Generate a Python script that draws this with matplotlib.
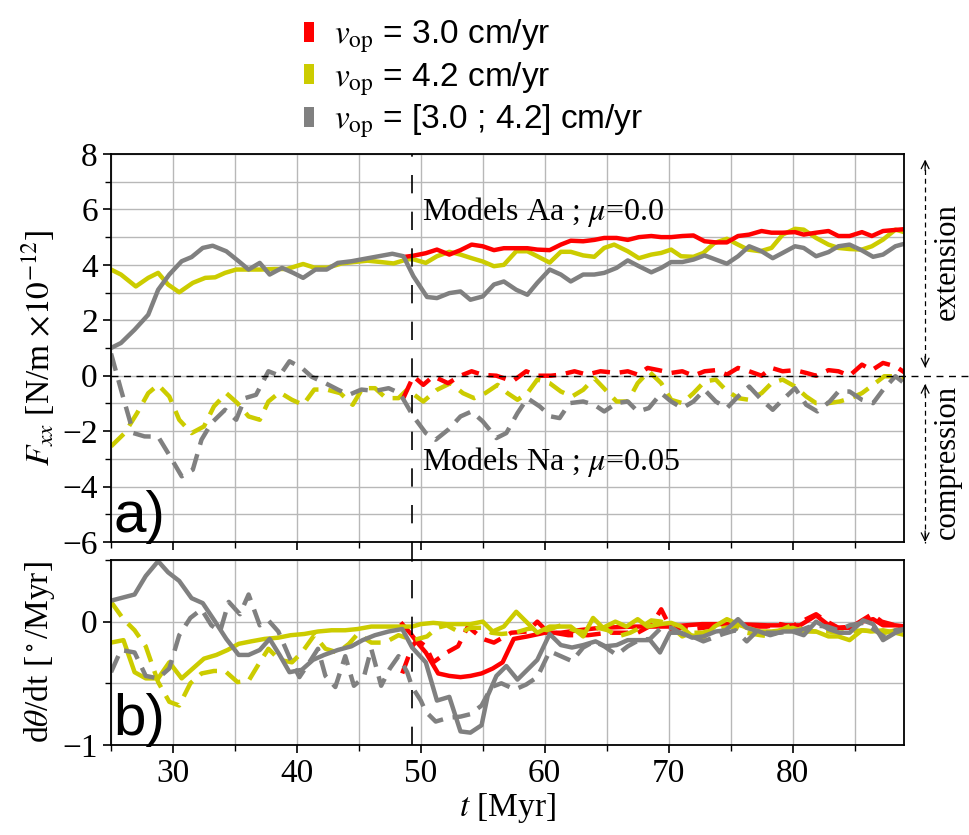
import matplotlib
matplotlib.use('Agg')
import matplotlib.pyplot as plt
from matplotlib.patches import Patch
from matplotlib.ticker import MultipleLocator

plt.rcParams['font.family'] = ['Liberation Serif', 'DejaVu Serif']
plt.rcParams['mathtext.fontset'] = 'stix'

# ---- panel a) : F_xx [N/m x 1e-12] ----
# v_op = [3.0 ; 4.2] (gray), solid = Models Aa
t_gray_a = [25.0, 25.8, 26.9, 28.0, 28.8, 29.7, 30.7, 31.5, 32.4, 33.2, 34.3, 35.3, 36.1, 37.0, 37.8,
            38.8, 39.7, 40.5, 41.5, 42.4, 43.3, 44.4, 45.5, 46.6, 47.7, 48.6, 49.4, 50.5, 51.3, 52.3,
            53.2, 54.0, 55.0, 55.9, 56.7, 57.7, 58.6, 59.4, 60.4, 61.3, 62.1, 63.1, 64.0, 64.8, 65.8,
            66.7, 67.6, 68.6, 69.4, 70.2, 71.1, 72.0, 72.9, 73.8, 74.7, 75.6, 76.5, 77.5, 78.4, 79.2,
            80.2, 80.9, 81.9, 82.9, 83.7, 84.6, 85.6, 86.5, 87.3, 88.3, 89.1]
f_gray_a = [1.0, 1.18, 1.66, 2.2, 3.1, 3.65, 4.13, 4.28, 4.61, 4.69, 4.49, 4.13, 3.83, 4.07, 3.65,
            3.89, 3.71, 3.53, 3.83, 3.83, 4.07, 4.13, 4.22, 4.31, 4.40, 4.31, 3.59, 2.84, 2.8, 2.98,
            3.04, 2.74, 2.86, 3.29, 3.4, 3.1, 2.92, 3.35, 3.83, 3.65, 3.4, 3.65, 3.65, 3.71, 3.89,
            4.16, 3.95, 3.73, 3.89, 4.1, 4.1, 4.19, 4.34, 4.19, 4.04, 4.31, 4.67, 4.49, 4.24, 4.43,
            4.67, 4.61, 4.31, 4.46, 4.67, 4.73, 4.52, 4.29, 4.37, 4.67, 4.77]

# v_op = 4.2 (yellow), solid
t_yel_a = [25.0, 25.8, 27.0, 28.0, 28.8, 29.6, 30.5, 31.6, 32.6, 33.4, 34.2, 35.1, 36.0, 37.1, 38.2,
           39.2, 40.5, 41.4, 42.5, 43.6, 44.6, 45.7, 46.8, 47.8, 48.9, 49.4, 50.4, 51.3, 52.3, 53.2,
           54.1, 55.0, 55.9, 56.7, 57.7, 58.6, 59.4, 60.4, 61.3, 62.1, 63.1, 64.0, 64.8, 65.6, 66.7,
           67.6, 68.6, 69.4, 70.2, 71.0, 72.0, 72.8, 73.7, 74.7, 75.6, 76.4, 77.4, 78.3, 79.2, 80.2,
           80.9, 81.9, 82.9, 83.7, 84.6, 85.6, 86.4, 87.3, 88.3, 89.1]
f_yel_a = [3.83, 3.65, 3.22, 3.53, 3.71, 3.29, 3.01, 3.35, 3.53, 3.55, 3.71, 3.83, 3.83, 3.83, 3.85,
           3.85, 4.03, 3.9, 3.9, 4.05, 4.1, 4.15, 4.1, 4.05, 4.2, 4.2, 4.07, 4.31, 4.47, 4.37,
           4.24, 4.12, 3.95, 4.0, 4.49, 4.49, 4.31, 4.08, 4.47, 4.47, 4.34, 4.29, 4.61, 4.73, 4.49,
           4.24, 4.37, 4.43, 4.55, 4.31, 4.29, 4.43, 4.79, 4.94, 4.73, 4.55, 4.49, 4.61, 5.09, 5.3,
           5.27, 4.97, 4.73, 4.61, 4.57, 4.55, 4.67, 4.91, 5.27, 5.17]

# v_op = 3.0 (red), solid
t_red_a = [48.9, 49.4, 50.4, 51.3, 52.3, 53.2, 54.1, 55.0, 55.9, 56.7, 57.7, 58.6, 59.4, 60.4, 61.3,
           62.1, 63.1, 64.0, 64.8, 65.8, 66.7, 67.6, 68.6, 69.4, 70.2, 71.1, 72.0, 72.9, 73.8, 74.7,
           75.6, 76.5, 77.5, 78.3, 79.2, 80.2, 80.9, 81.9, 82.9, 83.7, 84.6, 85.6, 86.4, 87.3, 88.3,
           89.1]
f_red_a = [4.3, 4.33, 4.42, 4.55, 4.37, 4.53, 4.73, 4.67, 4.53, 4.6, 4.6, 4.6, 4.55, 4.53, 4.73,
           4.87, 4.85, 4.9, 4.97, 4.97, 4.9, 5.0, 5.04, 5.0, 5.0, 5.04, 5.06, 4.85, 4.81, 4.81,
           5.04, 5.09, 5.22, 5.16, 5.16, 5.18, 5.09, 5.16, 5.22, 5.04, 5.04, 5.18, 5.04, 5.22, 5.26,
           5.29]

# dashed = Models Na
t_gray_n = [25.0, 25.8, 26.8, 27.7, 28.8, 29.6, 30.7, 31.6, 32.3, 33.1, 34.2, 35.1, 35.8, 36.7, 37.7,
            38.6, 39.4, 40.4, 41.2, 42.3, 43.3, 44.2, 45.2, 46.3, 47.4, 48.3, 49.4, 50.4, 51.2, 52.2,
            53.2, 54.1, 55.0, 56.1, 56.9, 57.8, 58.6, 59.6, 60.5, 61.2, 62.0, 63.1, 64.0, 64.8, 65.8,
            66.7, 67.5, 68.4, 69.4, 70.2, 71.1, 72.0, 72.9, 73.8, 74.7, 75.6, 76.5, 77.5, 78.4, 79.2,
            80.2, 81.1, 82.0, 83.0, 83.7, 84.6, 85.6, 86.5, 87.3, 88.3, 89.1]
f_gray_n = [0.8, -0.5, -2.07, -2.19, -2.2, -2.79, -3.63, -3.39, -2.31, -1.71, -1.23, -1.59, -0.81, -0.69, 0.16,
            0.0, 0.52, 0.28, -0.04, -0.27, -0.5, -0.69, -0.5, -0.55, -0.45, -0.63, -1.47, -2.07, -2.31, -1.95,
            -1.47, -1.29, -1.65, -2.25, -2.07, -1.35, -0.81, -1.11, -1.47, -1.53, -0.99, -0.93, -1.05, -1.29, -0.99,
            -0.93, -1.29, -1.17, -0.63, -0.93, -1.17, -0.93, -0.51, -0.93, -1.17, -0.75, -0.39, -0.87, -1.23, -0.87,
            -0.45, -1.05, -1.29, -0.93, -0.57, -0.57, -0.87, -0.99, -0.51, -0.02, -0.3]

t_yel_n = [25.0, 26.1, 27.1, 28.0, 28.8, 29.7, 30.5, 31.5, 32.5, 33.3, 34.3, 35.2, 36.1, 37.0, 37.7,
           38.6, 39.6, 40.5, 41.4, 42.4, 43.5, 44.5, 45.3, 46.3, 47.2, 48.2, 48.9, 50.2, 51.3, 52.4,
           53.4, 54.3, 55.2, 56.2, 57.0, 57.8, 58.6, 59.4, 60.4, 61.3, 62.2, 63.1, 64.0, 64.9, 65.8,
           66.7, 67.5, 68.4, 69.4, 70.2, 71.1, 72.0, 72.9, 73.8, 74.6, 75.6, 76.5, 77.5, 78.3, 79.2,
           80.2, 81.1, 81.9, 82.9, 83.8, 84.7, 85.6, 86.5, 87.4, 88.3, 89.1]
f_yel_n = [-2.55, -2.07, -1.35, -0.63, -0.33, -0.75, -1.59, -2.07, -1.83, -1.11, -0.63, -0.99, -1.47, -1.59, -0.93,
           -0.6, -0.87, -1.05, -0.5, -0.5, -0.63, -1.05, -0.45, -0.45, -0.81, -0.81, -0.5, -0.93, -0.51, -0.27,
           -0.63, -0.81, -0.63, -0.33, -0.63, -0.87, -0.63, -0.14, -0.27, -0.57, -0.75, -0.51, -0.09, -0.51, -0.93,
           -0.93, -0.27, 0.16, -0.27, -0.87, -0.99, -0.63, -0.21, -0.14, -0.51, -0.81, -0.87, -0.63, -0.27, -0.14,
           -0.39, -0.75, -0.99, -0.99, -0.93, -0.81, -0.63, -0.33, -0.02, -0.02, -0.14]

t_red_n = [48.6, 49.4, 50.2, 51.0, 52.2, 53.2, 54.1, 55.0, 56.1, 57.4, 58.5, 59.4, 60.5, 61.3, 62.4,
           63.4, 64.5, 65.8, 66.7, 67.5, 68.3, 69.2, 70.2, 71.1, 72.0, 72.9, 73.8, 74.7, 75.6, 76.5,
           77.5, 78.3, 79.2, 80.2, 81.1, 81.9, 82.9, 83.7, 84.6, 85.6, 86.4, 87.3, 88.3, 89.1]
f_red_n = [-0.8, -0.02, -0.33, -0.02, -0.27, 0.0, 0.16, 0.03, 0.0, -0.2, 0.16, 0.0, 0.0, 0.04, 0.16,
           0.04, 0.16, 0.1, 0.16, 0.04, 0.28, 0.2, 0.1, 0.16, 0.0, 0.16, 0.2, 0.04, 0.28, 0.16,
           0.0, 0.28, 0.16, 0.2, 0.1, 0.0, 0.2, 0.16, 0.0, 0.4, 0.2, 0.46, 0.34, 0.1]

# ---- panel b) : dtheta/dt [deg/Myr] ----
t_gray_b = [25.0, 26.9, 27.8, 28.8, 29.6, 30.5, 31.5, 32.4, 33.4, 34.3, 35.3, 36.1, 37.0, 37.8, 38.6,
            39.4, 40.4, 41.3, 42.2, 43.3, 44.4, 45.3, 46.3, 47.4, 48.5, 49.3, 50.4, 51.3, 52.3, 53.2,
            54.0, 54.9, 55.4, 56.1, 56.9, 57.8, 58.6, 59.4, 60.4, 61.3, 62.2, 63.1, 64.1, 64.9, 65.8,
            66.7, 67.6, 68.5, 69.3, 70.1, 71.0, 71.9, 72.8, 73.8, 74.6, 75.6, 76.3, 77.3, 78.2, 79.2,
            80.0, 80.9, 81.9, 82.9, 83.8, 84.6, 85.7, 86.5, 87.3, 88.3, 89.1]
d_gray_b = [0.17, 0.22, 0.37, 0.49, 0.40, 0.33, 0.19, 0.15, 0.0, -0.14, -0.27, -0.27, -0.23, -0.14, -0.27,
            -0.41, -0.39, -0.31, -0.27, -0.23, -0.2, -0.15, -0.11, -0.08, -0.06, -0.21, -0.33, -0.64, -0.61, -0.89,
            -0.9, -0.84, -0.6, -0.44, -0.36, -0.47, -0.39, -0.31, -0.1, -0.19, -0.21, -0.19, -0.16, -0.2, -0.19,
            -0.15, -0.15, -0.15, -0.25, -0.09, -0.09, -0.13, -0.12, -0.08, -0.07, 0.02, -0.05, -0.08, -0.11, -0.08,
            -0.08, -0.11, 0.0, -0.06, -0.09, -0.09, 0.01, -0.02, -0.15, -0.09, -0.06]

t_yel_b = [25.0, 26.0, 26.9, 27.8, 28.8, 29.7, 30.7, 31.6, 32.5, 33.5, 34.4, 35.3, 36.3, 37.4, 38.5,
           39.5, 40.6, 41.7, 42.8, 43.9, 44.9, 46.0, 47.1, 48.2, 49.3, 50.0, 51.0, 52.1, 53.0, 54.0,
           55.0, 55.8, 56.7, 57.7, 58.6, 59.4, 60.4, 61.3, 62.1, 63.1, 63.9, 64.7, 65.7, 66.6, 67.5,
           68.3, 69.3, 70.2, 71.0, 71.8, 72.8, 73.7, 74.7, 75.6, 76.3, 77.4, 78.3, 79.1, 80.0, 80.9,
           81.9, 82.9, 83.7, 84.6, 85.6, 86.4, 87.3, 88.3, 89.1]
d_yel_b = [-0.17, -0.15, -0.41, -0.46, -0.46, -0.33, -0.46, -0.38, -0.3, -0.27, -0.23, -0.18, -0.16, -0.14, -0.13,
           -0.11, -0.1, -0.08, -0.07, -0.07, -0.06, -0.04, -0.04, -0.04, -0.04, -0.02, -0.01, -0.02, -0.02, -0.02,
           0.0, -0.08, -0.04, 0.08, -0.01, -0.09, -0.04, -0.04, -0.04, -0.12, 0.03, -0.05, 0.0, -0.04, 0.02,
           -0.04, -0.02, -0.01, -0.04, -0.11, -0.13, -0.04, 0.02, -0.02, -0.05, -0.08, -0.08, -0.07, -0.05, -0.08,
           -0.08, -0.12, -0.12, -0.15, -0.07, -0.08, -0.07, -0.09, -0.11]

t_red_b = [48.5, 49.2, 49.8, 50.4, 51.4, 52.3, 53.2, 54.0, 54.9, 55.8, 56.6, 57.5, 58.6, 60.0, 61.3,
           62.7, 64.5, 67.3, 70.0, 72.7, 75.4, 78.0, 80.6, 81.9, 82.8, 83.7, 84.6, 85.6, 86.5, 87.3,
           88.3, 89.1]
d_red_b = [-0.02, -0.1, -0.18, -0.25, -0.42, -0.44, -0.45, -0.44, -0.42, -0.38, -0.33, -0.14, -0.12, -0.09, -0.09,
           -0.07, -0.05, -0.04, -0.04, -0.02, -0.02, -0.03, -0.03, 0.05, -0.02, -0.05, -0.05, 0.0, 0.02, -0.03,
           -0.03, -0.04]

t_gray_bn = [25.0, 25.8, 26.9, 27.8, 28.8, 29.7, 30.5, 31.4, 32.3, 33.1, 33.8, 34.5, 35.4, 36.1, 37.0,
             37.7, 38.5, 39.4, 40.2, 41.0, 41.7, 42.3, 43.1, 43.9, 44.6, 45.4, 46.0, 46.8, 47.5, 48.2,
             48.9, 49.3, 50.0, 50.4, 51.2, 52.2, 53.2, 54.0, 54.9, 55.7, 56.5, 57.6, 58.5, 59.4, 60.4,
             61.3, 62.2, 63.1, 64.0, 64.8, 65.8, 66.7, 67.6, 68.5, 69.4, 70.2, 71.1, 71.9, 72.8, 73.6,
             74.4, 75.4, 76.3, 77.1, 77.9, 79.0, 79.8, 80.6, 81.7, 82.8, 83.7, 84.6, 85.7, 86.5, 87.5,
             88.3, 89.1]
d_gray_bn = [-0.41, -0.23, -0.25, -0.44, -0.46, -0.38, -0.11, 0.03, 0.10, -0.03, -0.08, 0.16, 0.06, 0.22, -0.03,
             0.01, -0.08, -0.29, -0.45, -0.33, -0.22, -0.44, -0.53, -0.28, -0.52, -0.45, -0.22, -0.52, -0.38, -0.28,
             -0.41, -0.53, -0.64, -0.73, -0.81, -0.78, -0.77, -0.75, -0.68, -0.53, -0.5, -0.55, -0.51, -0.45, -0.24,
             -0.28, -0.32, -0.21, -0.16, -0.2, -0.27, -0.2, -0.15, -0.14, -0.05, -0.05, -0.1, -0.12, -0.16, -0.13,
             -0.1, -0.07, -0.16, -0.08, -0.09, -0.09, -0.08, -0.07, -0.03, -0.04, -0.07, -0.03, -0.01, -0.06, -0.13,
             -0.07, -0.06]

t_yel_bn = [25.0, 26.0, 26.9, 27.8, 28.8, 29.7, 30.5, 31.4, 32.3, 33.3, 34.2, 35.2, 36.1, 37.0, 37.7,
            38.6, 39.6, 40.4, 41.4, 42.3, 43.3, 44.2, 44.9, 46.0, 47.1, 48.2, 49.4, 50.5, 51.3, 52.1,
            53.2, 54.0, 54.9, 55.7, 56.5, 57.6, 58.6, 59.4, 60.2, 61.3, 62.4, 63.5, 64.3, 65.1, 65.9,
            66.9, 67.7, 68.6, 69.4, 70.3, 71.1, 71.9, 72.7, 73.6, 74.5, 75.3, 76.3, 77.4, 78.2, 79.0,
            79.9, 81.0, 81.8, 82.9, 83.7, 84.8, 85.6, 86.7, 87.5, 88.3, 89.1]
d_yel_bn = [0.16, 0.02, -0.07, -0.2, -0.49, -0.65, -0.68, -0.5, -0.42, -0.4, -0.4, -0.49, -0.48, -0.33, -0.22,
            -0.31, -0.33, -0.25, -0.11, -0.22, -0.25, -0.18, -0.1, -0.17, -0.17, -0.11, -0.15, -0.12, -0.05, -0.03,
            -0.09, -0.05, -0.05, -0.09, -0.1, -0.09, -0.06, -0.05, -0.07, -0.03, -0.07, -0.09, -0.05, -0.07, -0.12,
            -0.09, -0.05, 0.01, 0.0, -0.05, -0.12, -0.09, -0.09, -0.07, -0.05, -0.04, -0.09, -0.11, -0.12, -0.07,
            -0.03, -0.07, -0.08, -0.08, -0.09, -0.08, -0.07, -0.08, -0.09, -0.07, -0.06]

t_red_bn = [48.5, 49.3, 49.7, 50.4, 51.0, 52.1, 53.0, 53.8, 55.0, 55.9, 57.3, 58.6, 59.4, 60.2, 61.9,
            63.5, 65.1, 66.7, 67.5, 68.6, 69.4, 70.2, 71.1, 72.0, 73.6, 75.2, 76.8, 77.9, 79.0, 79.9,
            80.9, 81.9, 82.6, 83.7, 84.8, 85.6, 86.4, 87.2, 88.3, 89.1]
d_red_bn = [-0.42, -0.2, -0.15, -0.2, -0.33, -0.25, -0.2, -0.04, -0.14, -0.17, -0.09, -0.08, 0.0, -0.08, -0.11,
            -0.11, -0.09, -0.09, -0.09, -0.03, 0.1, -0.06, -0.05, -0.06, -0.04, -0.02, -0.04, -0.04, -0.02, -0.04,
            0.01, 0.06, 0.01, -0.05, -0.04, 0.01, 0.06, 0.0, -0.03, -0.02]

legend_labels = [r'$v_{\rm op}$ = 3.0 cm/yr', r'$v_{\rm op}$ = 4.2 cm/yr', r'$v_{\rm op}$ = [3.0 ; 4.2] cm/yr']

RED = '#ff0000'
YEL = '#cccc00'
GRAY = '#808080'
LW = 3.2
DASH = (0, (4, 2.2))
t_switch = 49.3

fig = plt.figure(figsize=(9.69, 8.35), dpi=100)
ax1 = fig.add_axes([0.1146, 0.3509, 0.8184, 0.4647])
ax2 = fig.add_axes([0.1146, 0.1078, 0.8184, 0.2216])

# panel a
ax1.plot(t_yel_a, f_yel_a, color=YEL, lw=LW)
ax1.plot(t_red_a, f_red_a, color=RED, lw=LW)
ax1.plot(t_gray_a, f_gray_a, color=GRAY, lw=LW)
ax1.plot(t_yel_n, f_yel_n, color=YEL, lw=LW, ls=DASH)
ax1.plot(t_red_n, f_red_n, color=RED, lw=LW, ls=DASH)
ax1.plot(t_gray_n, f_gray_n, color=GRAY, lw=LW, ls=DASH)

# panel b
ax2.plot(t_red_b, d_red_b, color=RED, lw=LW)
ax2.plot(t_red_bn, d_red_bn, color=RED, lw=LW, ls=DASH)
ax2.plot(t_yel_b, d_yel_b, color=YEL, lw=LW)
ax2.plot(t_yel_bn, d_yel_bn, color=YEL, lw=LW, ls=DASH)
ax2.plot(t_gray_b, d_gray_b, color=GRAY, lw=LW)
ax2.plot(t_gray_bn, d_gray_bn, color=GRAY, lw=LW, ls=DASH)

for ax in (ax1, ax2):
    ax.set_xlim(25, 89)
    ax.xaxis.set_major_locator(MultipleLocator(10))
    ax.xaxis.set_minor_locator(MultipleLocator(5))
    ax.grid(which='both', color='#b8b8b8', lw=1.0)
    ax.set_axisbelow(True)
    ax.tick_params(which='major', length=6, width=1.2, labelsize=24)
    ax.tick_params(which='minor', length=4, width=1.0)
    for sp in ax.spines.values():
        sp.set_linewidth(1.3)

ax1.set_ylim(-6, 8)
ax1.yaxis.set_major_locator(MultipleLocator(2))
ax1.yaxis.set_minor_locator(MultipleLocator(1))
ax1.tick_params(axis='x', labelbottom=False)
ax1.set_ylabel(r'$F_{xx}$ [N/m $\times 10^{-12}$]', fontsize=24, labelpad=4)

ax2.set_ylim(-1, 0.5)
ax2.yaxis.set_major_locator(MultipleLocator(1))
ax2.yaxis.set_minor_locator(MultipleLocator(0.5))
ax2.set_ylabel(r'd$\theta$/dt [$^\circ$/Myr]', fontsize=24, labelpad=4)
ax2.set_xlabel(r'$t$ [Myr]', fontsize=24, labelpad=2)

# zero line extending beyond the right side
ax1.plot([25, 94.6], [0, 0], color='k', lw=1.0, ls=(0, (5, 4)), clip_on=False, zorder=5)

# switch time line across both panels
ax1.axvline(t_switch, ymin=-0.047, ymax=1, color='k', lw=1.2, ls=(0, (11, 11)), clip_on=False, zorder=6)
ax2.axvline(t_switch, color='k', lw=1.2, ls=(0, (11, 11)), zorder=6)

ax1.text(50.1, 5.9, r'Models Aa ; $\mu$=0.0', fontsize=23, va='center', ha='left')
ax1.text(50.1, -3.1, r'Models Na ; $\mu$=0.05', fontsize=23, va='center', ha='left')
ax1.text(0.003, -0.005, 'a)', transform=ax1.transAxes, fontsize=42, family='Liberation Sans',
         ha='left', va='bottom')
ax2.text(0.003, -0.01, 'b)', transform=ax2.transAxes, fontsize=42, family='Liberation Sans',
         ha='left', va='bottom')

# extension / compression arrows on the right
xa = 90.7
ax1.plot([xa, xa], [0.3, 7.85], color='k', lw=0.9, ls=(0, (4, 3)), clip_on=False)
ax1.plot([xa, xa], [-0.3, -6.05], color='k', lw=0.9, ls=(0, (4, 3)), clip_on=False)
for y0, y1 in [(7.3, 7.9), (0.8, 0.2), (-0.8, -0.2), (-5.5, -6.1)]:
    ax1.annotate('', xy=(xa, y1), xytext=(xa, y0), annotation_clip=False,
                 arrowprops=dict(arrowstyle='->', lw=0.9, color='k', mutation_scale=14))
ax1.text(92.5, 4.1, 'extension', rotation=90, fontsize=22, ha='center', va='center')
ax1.text(92.5, -3.1, 'compression', rotation=90, fontsize=22, ha='center', va='center')

handles = [Patch(facecolor=c, edgecolor='none') for c in (RED, YEL, GRAY)]
fig.legend(handles, legend_labels, loc='upper left', bbox_to_anchor=(0.30, 0.995),
           frameon=False, prop={'family': 'Liberation Sans', 'size': 24},
           handlelength=0.3, handleheight=0.55, handletextpad=0.6, labelspacing=0.15,
           borderaxespad=0.0)

fig.savefig('out.png', dpi=100)
